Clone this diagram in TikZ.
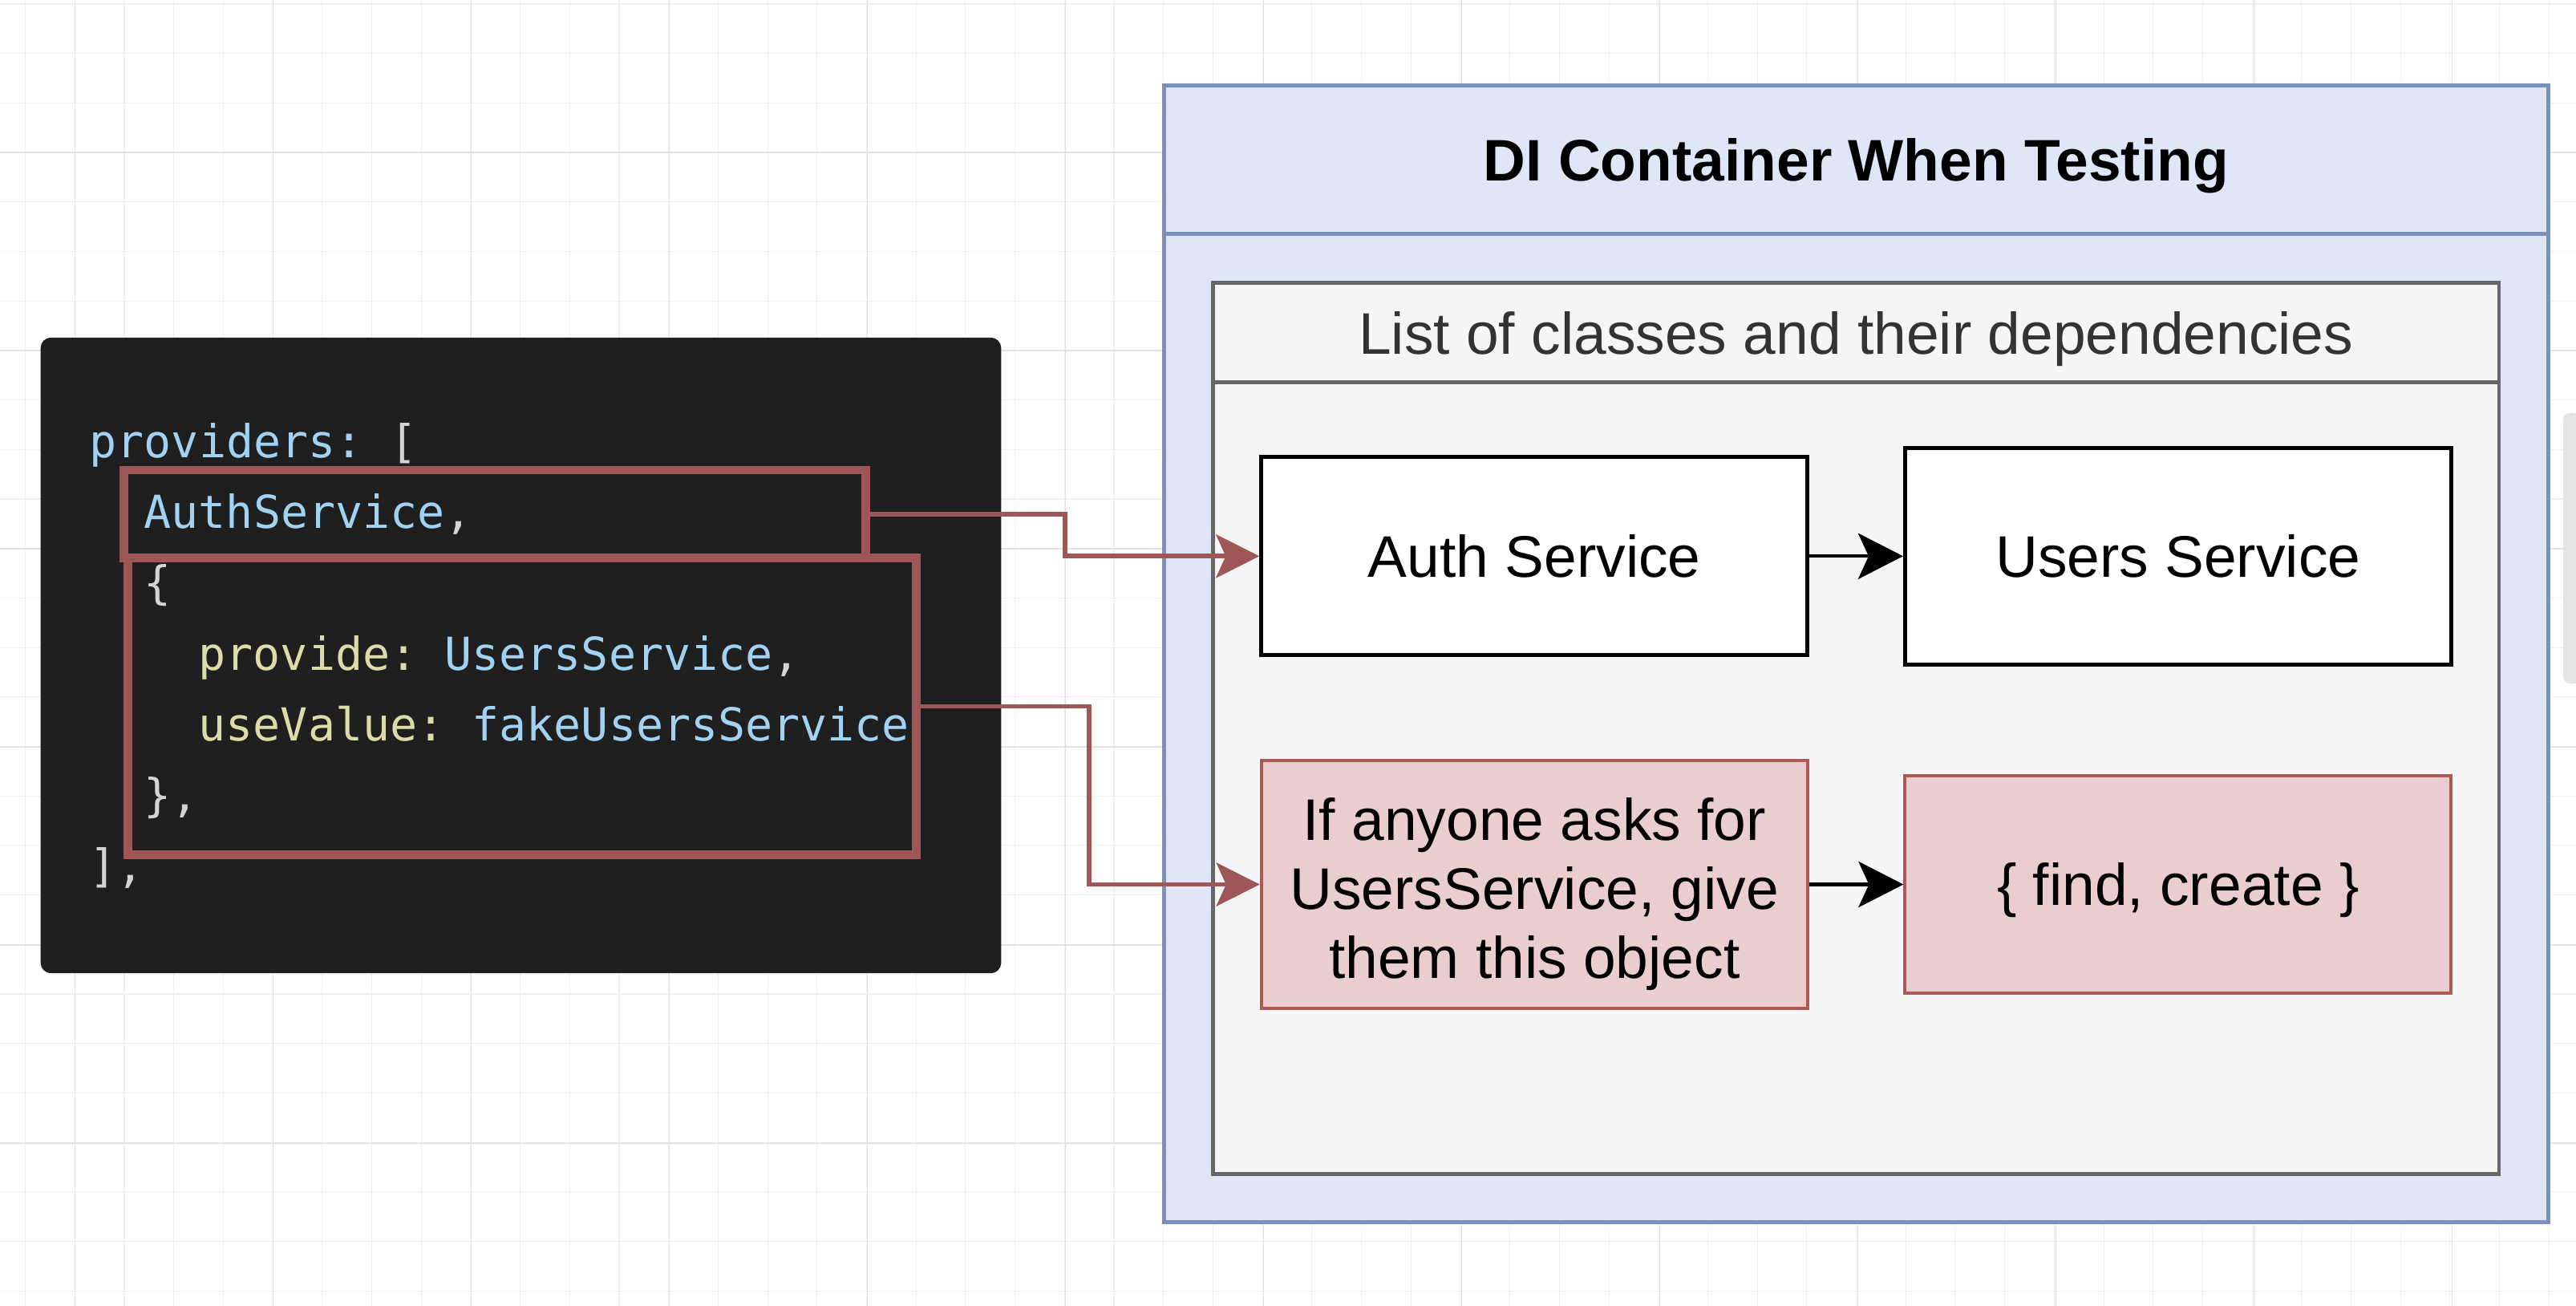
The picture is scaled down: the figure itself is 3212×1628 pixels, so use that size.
\documentclass[tikz,border=0pt]{standalone}
\usepackage{fontspec}
\setmainfont{Liberation Sans}
\newfontfamily\codefont{DejaVu Sans Mono}
\usetikzlibrary{arrows.meta}

\definecolor{gridminor}{HTML}{F0F0F0}
\definecolor{gridmajor}{HTML}{E2E2E2}
\definecolor{codebg}{HTML}{1F1F1F}
\definecolor{codeblue}{HTML}{A2D2F2}
\definecolor{codeyellow}{HTML}{DCDCAA}
\definecolor{codegray}{HTML}{D4D4D4}
\definecolor{hlred}{HTML}{9E5656}
\definecolor{bluefill}{HTML}{DFE6F8}
\definecolor{bluedraw}{HTML}{7A90C0}
\definecolor{grayfill}{HTML}{F5F5F5}
\definecolor{graydraw}{HTML}{666666}
\definecolor{pinkfill}{HTML}{EACDCE}
\definecolor{pinkdraw}{HTML}{AD5A57}
\definecolor{listtext}{HTML}{333333}
\definecolor{scrollgray}{HTML}{E4E4E4}

\newcommand{\boxfont}{\fontsize{20.8pt}{24.5pt}\selectfont}
\newcommand{\codesize}{\codefont\fontsize{16.1pt}{25pt}\selectfont}
\newcommand{\codegap}{\hspace{0.341cm}}

\tikzset{
  gridthin/.style={draw=gridminor, line width=0.3pt},
  gridthick/.style={draw=gridmajor, line width=0.45pt},
  codeline/.style={anchor=base west, inner sep=0pt, font=\codesize},
  highlight/.style={draw=hlred, line width=3.1pt, inner sep=0pt},
  swimlane/.style={draw=bluedraw, fill=bluefill, line width=1.4pt, inner sep=0pt},
  classlist/.style={draw=graydraw, fill=grayfill, line width=1.3pt, inner sep=0pt},
  capline/.style={text height=14.9pt, text depth=0pt},
  servicebox/.style={draw=black, fill=white, line width=1.4pt, font=\boxfont, align=center},
  fakebox/.style={draw=pinkdraw, fill=pinkfill, line width=1.15pt, font=\boxfont, align=center},
  dep/.style={line width=1.15pt, -{Stealth[length=0.56cm, width=0.57cm, inset=0.13cm]}},
  wire/.style={draw=hlred, line width=1.7pt, -{Stealth[length=0.54cm, width=0.54cm, inset=0.12cm]}}
}

\begin{document}
\begin{tikzpicture}[x=0.01cm, y=-0.01cm]

  \useasboundingbox (0,0) rectangle (3212,1628);
  \fill[white] (0,0) rectangle (3212,1628);

  % background grid
  \foreach \gx in {0,...,51}
    \draw[gridthin] ({31.6+61.7*\gx},0) -- ({31.6+61.7*\gx},1628);
  \foreach \gy in {0,...,26}
    \draw[gridthin] (0,{5+61.7*\gy}) -- (3212,{5+61.7*\gy});
  \foreach \gx in {0,...,12}
    \draw[gridthick] ({93.3+247*\gx},0) -- ({93.3+247*\gx},1628);
  \foreach \gy in {0,...,5}
    \draw[gridthick] (0,{190+247*\gy}) -- (3212,{190+247*\gy});

  \fill[scrollgray, rounded corners=0.08cm] (3196,515) rectangle (3240,852);

  % code snippet
  \node[fill=codebg, rounded corners=0.13cm, inner sep=0pt, minimum width=11.97cm, minimum height=7.92cm] (code) at (649.5,817) {};

  \node[codeline] (l1) at (111,571) {\textcolor{codeblue}{providers:}\codegap\textcolor{codegray}{[}};
  \node[codeline] (l2) at (179,659) {\textcolor{codeblue}{AuthService}\textcolor{codegray}{,}};
  \node[codeline] (l3) at (179,747) {\textcolor{codegray}{\{}};
  \node[codeline] (l4) at (247,835) {\textcolor{codeyellow}{provide:}\codegap\textcolor{codeblue}{UsersService}\textcolor{codegray}{,}};
  \node[codeline] (l5) at (247,923) {\textcolor{codeyellow}{useValue:}\codegap\textcolor{codeblue}{fakeUsersService}};
  \node[codeline] (l6) at (179,1011) {\textcolor{codegray}{\},}};
  \node[codeline] (l7) at (111,1099) {\textcolor{codegray}{],}};

  \node[highlight, minimum width=9.245cm, minimum height=1.10cm] (authhl) at (617.25,641) {};
  \node[highlight, minimum width=9.82cm, minimum height=3.69cm] (usershl) at (651,880.5) {};

  % DI container
  \node[swimlane, minimum width=17.253cm, minimum height=14.168cm] (container) at (2314.3,815.1) {};
  \node[swimlane, capline, minimum width=17.253cm, minimum height=1.85cm, font=\boxfont\bfseries] (title) at (2314.3,199.2) {DI Container When Testing};

  \node[classlist, minimum width=16.027cm, minimum height=11.10cm] (list) at (2314.3,908) {};
  \node[classlist, capline, minimum width=16.027cm, minimum height=1.237cm, font=\boxfont, text=listtext] (listhead) at (2314.3,414.85) {List of classes and their dependencies};

  \node[servicebox, capline, minimum width=6.806cm, minimum height=2.47cm] (auth) at (1913.3,693.3) {Auth Service};
  \node[servicebox, capline, minimum width=6.804cm, minimum height=2.695cm] (users) at (2715.8,693.3) {Users Service};

  \node[fakebox, minimum width=6.806cm, minimum height=3.09cm] (fake) at (1913.3,1102.5) {};
  \node[font=\boxfont, align=center, yshift=-0.12cm] (faketext) at (fake.center) {If anyone asks for\\UsersService, give\\them this object};
  \node[fakebox, capline, minimum width=6.804cm, minimum height=2.71cm] (fakeobj) at (2715.8,1102.5) {\{ find, create \}};

  \draw[dep] (auth) -- (users);
  \draw[dep] (fake) -- (fakeobj);

  % links from code to container
  \coordinate (bend1) at (1328,641);
  \coordinate (bend2) at (1358,880.5);
  \draw[wire] (authhl.east) -- (bend1) |- (auth.west);
  \draw[wire] (usershl.east) -- (bend2) |- (fake.west);

\end{tikzpicture}
\end{document}
